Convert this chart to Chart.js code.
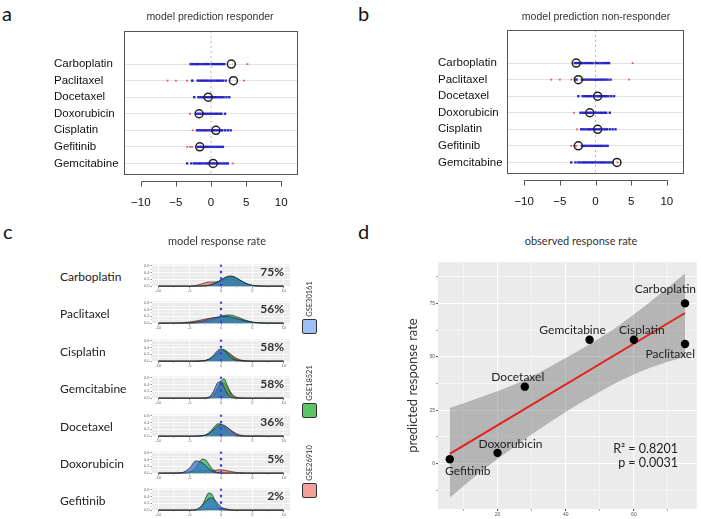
<!DOCTYPE html>
<html><head><meta charset="utf-8">
<script src="https://cdn.jsdelivr.net/npm/chart.js@4.4.1/dist/chart.umd.min.js"></script>
<style>
html,body{margin:0;padding:0;background:#fff;}
body{width:701px;height:519px;position:relative;overflow:hidden;}
canvas{position:absolute;}
.t{position:absolute;white-space:nowrap;line-height:1;}
.box{position:absolute;width:13px;height:13px;border:1px solid #333;border-radius:2px;}
</style></head><body>
<script>
// ---------- DATA ----------
const drugsAB = ['Carboplatin','Paclitaxel','Docetaxel','Doxorubicin','Cisplatin','Gefitinib','Gemcitabine'];
const respCircles = [2.9, 3.2, -0.4, -1.7, 0.7, -1.6, 0.3];
const nonRespCircles = [-2.7, -2.4, 0.3, -0.8, 0.3, -2.4, 3.0];
const blueDots = [
  [-2.9,-2.6,-2.3,-2.0,-1.8,-1.5,-1.2,-0.9,-0.6,-0.3,0.1,0.4,0.7,1.0,1.3,1.6,1.9],
  [-2.7,-1.9,-1.6,-1.3,-1.0,-0.7,-0.4,-0.1,0.2,0.5,0.8,1.1,1.4,1.7,2.1],
  [-2.4,-1.8,-1.5,-1.2,-0.9,-0.6,-0.3,0,0.3,0.6,0.9,1.2,1.5,1.8,2.2,2.6],
  [-2.1,-1.8,-1.5,-1.2,-0.9,-0.6,-0.3,0,0.3,0.6,0.9,1.2,1.5,2.0],
  [-2.0,-1.7,-1.4,-1.1,-0.8,-0.5,-0.2,0.1,0.4,0.7,1.0,1.3,1.6,2.0,2.4,2.8],
  [-1.9,-1.6,-1.3,-1.0,-0.7,-0.4,-0.1,0.2,0.5,0.8,1.1,1.4,1.7],
  [-3.4,-2.8,-2.4,-2.1,-1.8,-1.5,-1.2,-0.9,-0.6,-0.3,0,0.3,0.6,0.9,1.2,1.5,1.8,2.1,2.4]
];
const redDots = [
  [-0.6,0.2,1.5,1.8,5.2],
  [-6.2,-5.0,-3.4,-2.6,-0.8,0.9,4.7],
  [-1.0,0.5,1.4],
  [-3.0,-1.0,0.8,1.3],
  [-2.6,-0.9,0.5,1.6],
  [-3.4,-3.0,-2.7,-0.6],
  [-1.6,-0.4,1.0,3.1]
];
const xTicksAB = [-10,-5,0,5,10];

const drugsC = ['Carboplatin','Paclitaxel','Cisplatin','Gemcitabine','Docetaxel','Doxorubicin','Gefitinib'];
const pctC = ['75%','56%','58%','58%','36%','5%','2%'];
const cohortNames = ['GSE30161','GSE18521','GSE26910'];
const densX = [-10,-7,-6,-5,-4,-3,-2.5,-2,-1.5,-1,-0.5,0,0.5,1,1.5,2,2.5,3,4,5,6,7,10];
const densBlue = [
  [0,0,0,0,0.001,0.005,0.012,0.026,0.048,0.083,0.128,0.18,0.23,0.267,0.28,0.267,0.23,0.18,0.083,0.026,0.005,0.001,0],
  [0,0.001,0.004,0.011,0.03,0.063,0.085,0.111,0.137,0.162,0.182,0.195,0.2,0.195,0.182,0.162,0.137,0.111,0.063,0.03,0.011,0.004,0],
  [0,0,0,0,0,0.004,0.016,0.049,0.117,0.218,0.318,0.36,0.318,0.218,0.117,0.049,0.016,0.004,0,0,0,0,0],
  [0,0,0,0,0,0,0.005,0.028,0.111,0.283,0.462,0.482,0.323,0.139,0.038,0.007,0.001,0,0,0,0,0,0],
  [0,0,0,0,0.001,0.012,0.032,0.074,0.14,0.223,0.3,0.339,0.321,0.257,0.172,0.097,0.046,0.018,0.002,0,0,0,0],
  [0,0.002,0.028,0.15,0.36,0.3,0.235,0.146,0.071,0.028,0.009,0.002,0,0,0,0,0,0,0,0,0,0,0],
  [0,0,0,0.001,0.02,0.135,0.24,0.332,0.358,0.3,0.197,0.1,0.04,0.012,0.003,0,0,0,0,0,0,0,0]
];
const densGreen = [
  [0,0,0,0,0,0.003,0.009,0.02,0.04,0.075,0.123,0.182,0.24,0.284,0.3,0.284,0.24,0.182,0.075,0.02,0.003,0,0],
  [0,0,0,0.001,0.006,0.021,0.036,0.058,0.087,0.123,0.161,0.197,0.224,0.239,0.237,0.22,0.19,0.153,0.081,0.032,0.01,0.002,0],
  [0,0,0,0,0.001,0.004,0.013,0.038,0.089,0.169,0.262,0.328,0.334,0.278,0.186,0.1,0.046,0.02,0.005,0.001,0,0,0],
  [0,0,0,0,0,0,0,0.002,0.018,0.09,0.277,0.512,0.567,0.377,0.15,0.036,0.005,0,0,0,0,0,0],
  [0,0,0,0,0,0.01,0.033,0.087,0.18,0.29,0.363,0.354,0.269,0.159,0.073,0.026,0.007,0.002,0,0,0,0,0],
  [0,0,0.001,0.021,0.173,0.41,0.397,0.283,0.148,0.057,0.016,0.003,0,0,0,0,0,0,0,0,0,0,0],
  [0,0,0,0,0.007,0.145,0.336,0.502,0.48,0.294,0.116,0.029,0.005,0,0,0,0,0,0,0,0,0,0]
];
const densRed = [
  [0,0,0,0,0.02,0.07,0.1,0.12,0.12,0.12,0.13,0.15,0.18,0.2,0.21,0.2,0.17,0.13,0.06,0.02,0.005,0,0],
  [0,0.006,0.015,0.033,0.062,0.099,0.119,0.137,0.153,0.164,0.17,0.169,0.162,0.15,0.134,0.115,0.095,0.076,0.043,0.021,0.009,0.003,0],
  [0,0,0,0,0.001,0.01,0.025,0.055,0.103,0.168,0.236,0.286,0.299,0.27,0.21,0.14,0.082,0.041,0.009,0.002,0,0,0],
  [0,0,0,0,0,0,0.004,0.017,0.061,0.159,0.303,0.425,0.439,0.333,0.185,0.076,0.025,0.01,0.003,0,0,0,0],
  [0,0,0,0,0.001,0.012,0.028,0.06,0.111,0.176,0.24,0.282,0.287,0.25,0.189,0.123,0.069,0.034,0.005,0.003,0.01,0,0],
  [0,0.005,0.02,0.04,0.06,0.07,0.07,0.07,0.075,0.085,0.095,0.1,0.09,0.07,0.05,0.035,0.02,0.012,0.004,0,0,0,0],
  [0,0,0,0,0,0.01,0.02,0.035,0.045,0.05,0.055,0.06,0.05,0.03,0.012,0.004,0,0,0,0,0,0,0]
];

const drugsD = ['Carboplatin','Paclitaxel','Cisplatin','Gemcitabine','Docetaxel','Doxorubicin','Gefitinib'];
const observedRate = [75,75,60,47,28,20,6];
const predictedRate = [75,56,58,58,36,5,2];
const fitX = [6,75];
const fitY = [4.5,70.5];
const bandX = [6,15,25,35,45,55,65,75];
const bandUpper = [26,31,37,45,54,64,76,89];
const bandLower = [-16,-4,8,19,29,38,45,50];
const statsText = ['R\u00B2 = 0.8201','p  = 0.0031'];

// ---------- HELPERS ----------
function mkCanvas(left, top, w, h){
  const c=document.createElement('canvas'); c.width=w; c.height=h;
  c.style.left=left+'px'; c.style.top=top+'px'; c.style.width=w+'px'; c.style.height=h+'px';
  document.body.appendChild(c); return c;
}
function label(text,x,y,o={}){
  const d=document.createElement('div'); d.className='t'; d.textContent=text;
  d.style.fontFamily=o.font||'Lato'; d.style.fontSize=(o.size||12)+'px';
  d.style.fontWeight=o.weight||'normal'; d.style.color=o.color||'#222';
  d.style.left=x+'px'; d.style.top=y+'px';
  const tx=o.align==='center'?'-50%':o.align==='right'?'-100%':'0';
  d.style.transform=`translate(${tx},-50%)`+(o.rotate?` rotate(${o.rotate}deg)`:'');
  document.body.appendChild(d); return d;
}
const base = {responsive:false, animation:false, events:[], plugins:{legend:{display:false}, tooltip:{enabled:false}}};

// ---------- PANELS a / b ----------
const rStyle = {
  id:'rstyle',
  afterDraw(chart){
    const {ctx, chartArea:a, scales:{x}} = chart;
    ctx.save(); ctx.strokeStyle='#555'; ctx.lineWidth=1;
    ctx.strokeRect(a.left+0.5,a.top+0.5,a.width-1,a.height-1);
    const y0=a.bottom+6.5;
    ctx.beginPath();
    const p0=Math.round(x.getPixelForValue(xTicksAB[0]))+0.5, p1=Math.round(x.getPixelForValue(xTicksAB[xTicksAB.length-1]))+0.5;
    ctx.moveTo(p0,y0); ctx.lineTo(p1,y0);
    xTicksAB.forEach(v=>{const px=Math.round(x.getPixelForValue(v))+0.5; ctx.moveTo(px,y0); ctx.lineTo(px,y0+5);});
    ctx.stroke(); ctx.restore();
  }
};
function rowChart(left, width, yW, padTop, padRight, xH, circles){
  const cv = mkCanvas(left, 0, width, 215);
  const blue=[], red=[];
  drugsAB.forEach((d,i)=>{
    blueDots[i].forEach(v=>blue.push({x:v,y:i+1}));
    redDots[i].forEach(v=>red.push({x:v,y:i+1}));
  });
  const circ = circles.map((v,i)=>({x:v,y:i+1}));
  new Chart(cv,{type:'line',
    data:{datasets:[
      {data:circ, showLine:false, pointRadius:4, pointBorderColor:'#222', pointBackgroundColor:'rgba(255,255,255,0)', pointBorderWidth:1.5, order:1},
      {data:blue, showLine:false, pointStyle:'rect', pointRadius:1.7, pointBorderWidth:0, pointBackgroundColor:'rgba(20,20,200,0.9)', order:2},
      {data:red, showLine:false, pointStyle:'rect', pointRadius:1.3, pointBorderWidth:0, pointBackgroundColor:'rgba(235,40,40,0.75)', order:3},
      {data:[{x:0,y:-1},{x:0,y:7.7}], borderColor:'#b8b8b8', borderDash:[2,3], borderWidth:1, pointRadius:0, order:4}
    ]},
    options:{...base, layout:{padding:{top:padTop,right:padRight,left:0,bottom:0}},
      scales:{
        x:{type:'linear', min:-12.4, max:12.4,
          afterBuildTicks:s=>{s.ticks=xTicksAB.map(v=>({value:v}));},
          ticks:{font:{family:'Liberation Sans',size:11.5}, color:'#111', padding:13, maxRotation:0,
            callback:v=>String(v).replace('-','\u2212')},
          grid:{display:false}, border:{display:false}, afterFit:s=>{s.height=xH;}},
        y:{type:'linear', reverse:true, min:-1, max:7.7,
          afterBuildTicks:s=>{s.ticks=drugsAB.map((d,i)=>({value:i+1}));},
          ticks:{font:{family:'Liberation Sans',size:11.5}, color:'#111', crossAlign:'far', autoSkip:false,
            callback:(v,i)=>drugsAB[i]},
          grid:{color:'#e2e2e2', drawTicks:false, lineWidth:1}, border:{display:false},
          afterFit:s=>{s.width=yW;}}
      }},
    plugins:[rStyle]});
}
rowChart(54, 296, 70, 31, 52, 40, respCircles);
rowChart(438, 263, 69, 30, 17, 41, nonRespCircles);
label('a',2,13,{size:20,color:'#111'});
label('b',358,13,{size:20,color:'#111'});
label('model prediction responder',210,16,{font:'Liberation Sans',size:10.5,color:'#333',align:'center'});
label('model prediction non-responder',596,16,{font:'Liberation Sans',size:10.5,color:'#333',align:'center'});

// ---------- PANEL c ----------
const grayBg = {id:'graybg', beforeDraw(chart){const {ctx,chartArea:a}=chart; ctx.save(); ctx.fillStyle='#ebebeb'; ctx.fillRect(a.left,a.top,a.width,a.height); ctx.restore();}};
const densStyle = {fill:'origin', pointRadius:0, borderColor:'rgba(20,20,20,0.8)', borderWidth:0.8, cubicInterpolationMode:'monotone'};
drugsC.forEach((drug,i)=>{
  const top = Math.round(261 + i*37.4);
  const cv = mkCanvas(140, top, 150, 33);
  const mk = arr => densX.map((x,j)=>({x, y:arr[i][j]}));
  new Chart(cv,{type:'line',
    data:{datasets:[
      {data:[{x:0,y:0},{x:0,y:0.64}], borderColor:'#3b3bea', borderDash:[2.5,4], borderWidth:2.2, pointRadius:0, order:0},
      {data:mk(densBlue), backgroundColor:'rgba(50,115,200,0.72)', order:1, ...densStyle},
      {data:mk(densGreen), backgroundColor:'rgba(20,170,60,0.65)', order:2, ...densStyle},
      {data:mk(densRed), backgroundColor:'rgba(245,110,100,0.7)', order:3, ...densStyle}
    ]},
    options:{...base, layout:{padding:{top:1,right:0,left:0,bottom:0}},
      scales:{
        x:{type:'linear', min:-11, max:11,
          ticks:{stepSize:2.5, includeBounds:false, autoSkip:false, maxRotation:0, padding:0, font:{size:4}, color:'#666',
            callback:v=> (v%5===0)? String(v):''},
          grid:{color:'#ffffff', lineWidth:c=> (c.tick && c.tick.value%5===0)?0.9:0.4, tickLength:1.5, tickColor:'#888'},
          border:{display:false}, afterFit:s=>{s.height=7;}},
        y:{type:'linear', min:-0.025, max:0.64,
          ticks:{stepSize:0.1, includeBounds:false, autoSkip:false, padding:1, font:{size:4}, color:'#666',
            callback:v=> (Math.round(v*10)%2===0)? v.toFixed(1):''},
          grid:{color:'#ffffff', lineWidth:c=> (c.tick && Math.round(c.tick.value*10)%2===0)?0.9:0.4, tickLength:1.5, tickColor:'#888'},
          border:{display:false}, afterFit:s=>{s.width=12;}}
      }},
    plugins:[grayBg]});
  label(drug, 60, top+16, {size:12, color:'#222'});
  label(pctC[i], 284, top+11, {size:12, weight:'bold', color:'#333', align:'right'});
});
label('c',3,231,{size:20,color:'#111'});
label('model response rate',217,240,{size:11,color:'#333',align:'center'});
// legend
const legendCols = ['#9fbff5','#5cc462','#f3a09a'];
const legendTops = [319,403,483];
cohortNames.forEach((n,i)=>{
  const b=document.createElement('div'); b.className='box'; b.style.left='302px'; b.style.top=legendTops[i]+'px'; b.style.background=legendCols[i];
  document.body.appendChild(b);
  label(n, 310, legendTops[i]-20, {size:7.5, color:'#333', align:'center', rotate:-90});
});

// ---------- PANEL d ----------
const placeD = {Carboplatin:[11,-14,'right'], Paclitaxel:[10,10,'right'], Cisplatin:[8,-10,'center'], Gemcitabine:[-17,-10,'center'],
  Docetaxel:[-7,-10,'center'], Doxorubicin:[13,-9,'center'], Gefitinib:[18,12,'center']};
const pointLabels = {id:'plabels', afterDatasetsDraw(chart){
  const {ctx}=chart; const meta=chart.getDatasetMeta(3);
  ctx.save(); ctx.font='12px Lato'; ctx.fillStyle='#222'; ctx.textBaseline='middle';
  meta.data.forEach((el,i)=>{const p=placeD[drugsD[i]]; ctx.textAlign=p[2]; ctx.fillText(drugsD[i], el.x+p[0], el.y+p[1]);});
  ctx.restore();
}};
const cvD = mkCanvas(400, 258, 301, 261);
new Chart(cvD,{type:'line',
  data:{datasets:[
    {data:bandX.map((x,i)=>({x,y:bandUpper[i]})), fill:'+1', backgroundColor:'rgba(115,115,115,0.45)', borderWidth:0, pointRadius:0, cubicInterpolationMode:'monotone', order:5},
    {data:bandX.map((x,i)=>({x,y:bandLower[i]})), fill:false, borderWidth:0, pointRadius:0, cubicInterpolationMode:'monotone', order:6},
    {data:fitX.map((x,i)=>({x,y:fitY[i]})), borderColor:'#e3201c', borderWidth:2, pointRadius:0, order:2},
    {data:observedRate.map((x,i)=>({x,y:predictedRate[i]})), showLine:false, pointRadius:4.2, pointBackgroundColor:'#000', pointBorderWidth:0, order:1}
  ]},
  options:{...base, layout:{padding:{top:4,right:1,left:0,bottom:0}},
    scales:{
      x:{type:'linear', min:2.55, max:78.45,
        ticks:{stepSize:10, includeBounds:false, autoSkip:false, maxRotation:0, padding:1, font:{size:5}, color:'#555',
          callback:v=> (v%20===0)? String(v):''},
        grid:{color:'#ffffff', lineWidth:c=> (c.tick && c.tick.value%20===0)?1.1:0.5, tickLength:2, tickColor:'#555'},
        border:{display:false}, afterFit:s=>{s.height=10;}},
      y:{type:'linear', min:-21.3, max:94.3,
        ticks:{stepSize:12.5, includeBounds:false, autoSkip:false, padding:1, font:{size:5}, color:'#555',
          callback:v=> (v%25===0)? String(v):''},
        grid:{color:'#ffffff', lineWidth:c=> (c.tick && c.tick.value%25===0)?1.1:0.5, tickLength:2, tickColor:'#555'},
        border:{display:false},
        title:{display:true, text:'predicted response rate', font:{family:'Lato',size:13}, color:'#333', padding:{top:5,bottom:0}},
        afterFit:s=>{s.width=38;}}
    }},
  plugins:[grayBg, pointLabels]});
label('d',358,231,{size:20,color:'#111'});
label('observed response rate',581,240,{size:11,color:'#333',align:'center'});
label(statsText[0],678,449,{size:12.5,color:'#222',align:'right'});
label(statsText[1],678,463,{size:12.5,color:'#222',align:'right'});
</script>
</body></html>
